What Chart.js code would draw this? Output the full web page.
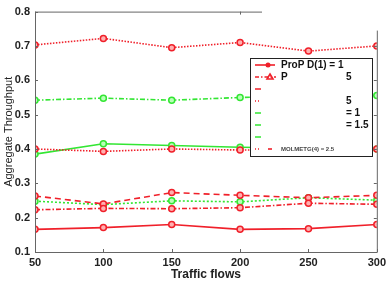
<!DOCTYPE html>
<html lang="en">
<head>
    <meta charset="UTF-8">
    <title>Aggregate Throughput vs Traffic flows</title>
    <script src="https://cdn.jsdelivr.net/npm/chart.js"></script>
    <style>
        html, body { margin: 0; padding: 0; background: #fff; }
        #wrap { width: 390px; height: 282px; }
    </style>
</head>
<body>
    <div id="wrap"><canvas id="chart" width="390" height="282"></canvas></div>

    <script>
        // data
        const flows = [50, 100, 150, 200, 250, 300];
        const yTicks = [0.1, 0.2, 0.3, 0.4, 0.5, 0.6, 0.7, 0.8];

        const redSolid   = [0.166, 0.171, 0.180, 0.166, 0.168, 0.180];
        const redDashDot = [0.223, 0.227, 0.226, 0.229, 0.242, 0.239];
        const redDashed  = [0.263, 0.240, 0.273, 0.265, 0.258, 0.265];
        const redDotLow  = [0.400, 0.393, 0.400, 0.397, 0.398, 0.400];
        const greenSolid = [0.385, 0.415, 0.410, 0.405, 0.402, 0.400];
        const greenDash  = [0.542, 0.548, 0.542, 0.550, 0.555, 0.556];
        const greenDot   = [0.248, 0.238, 0.249, 0.246, 0.258, 0.251];
        const redDotTop  = [0.703, 0.722, 0.695, 0.710, 0.685, 0.700];

        const RED = "#f0202a";
        const GREEN = "#33e633";

        function series(label, values, color, dash, marker) {
            return {
                label: label,
                data: values.map((v, i) => ({ x: flows[i], y: v })),
                borderColor: color,
                backgroundColor: color === RED ? "#ffb0b0" : "#b8ffb8",
                borderWidth: 1.6,
                borderDash: dash,
                pointStyle: marker || "circle",
                pointRadius: 3,
                pointBorderWidth: 1.5,
                pointBorderColor: color,
                tension: 0
            };
        }

        // box drawn over the plot like in the original figure
        const boxPlugin = {
            id: "boxPlugin",
            afterDatasetsDraw(chart) {
                const ctx = chart.ctx;
                const a = chart.chartArea;
                const xs = chart.scales.x;
                ctx.save();
                ctx.strokeStyle = "#666";
                ctx.lineWidth = 1;
                // frame: left, bottom, part of top, part of right
                ctx.beginPath();
                ctx.moveTo(a.left + 0.5, a.top);
                ctx.lineTo(a.left + 0.5, a.bottom + 0.5);
                ctx.lineTo(a.right + 0.5, a.bottom + 0.5);
                ctx.lineTo(a.right + 0.5, a.top + 19);
                ctx.moveTo(a.left, a.top + 0.5);
                ctx.lineTo(262, a.top + 0.5);
                ctx.stroke();
                // inward ticks
                ctx.beginPath();
                flows.forEach(f => {
                    const px = Math.round(xs.getPixelForValue(f)) + 0.5;
                    ctx.moveTo(px, a.bottom);
                    ctx.lineTo(px, a.bottom - 3);
                });
                ctx.moveTo(Math.round(xs.getPixelForValue(200)) + 0.5, a.top);
                ctx.lineTo(Math.round(xs.getPixelForValue(200)) + 0.5, a.top + 3);
                yTicks.forEach(t => {
                    const py = Math.round(chart.scales.y.getPixelForValue(t)) + 0.5;
                    ctx.moveTo(a.left, py);
                    ctx.lineTo(a.left + 3, py);
                    if (py > a.top + 19) {
                        ctx.moveTo(a.right, py);
                        ctx.lineTo(a.right - 3, py);
                    }
                });
                ctx.stroke();

                // legend box
                const bx = 250, by = 58, bw = 122, bh = 98;
                ctx.fillStyle = "#fff";
                ctx.fillRect(bx, by, bw, bh);
                ctx.strokeStyle = "#222";
                ctx.strokeRect(bx + 0.5, by + 0.5, bw, bh);

                const rows = [65, 77, 89, 101, 113, 125, 137, 149];
                ctx.lineWidth = 1.6;
                // first entry: red solid with circle
                ctx.strokeStyle = RED;
                ctx.setLineDash([]);
                ctx.beginPath();
                ctx.moveTo(255, rows[0]); ctx.lineTo(275, rows[0]); ctx.stroke();
                ctx.fillStyle = RED;
                ctx.beginPath(); ctx.arc(268, rows[0], 2.5, 0, Math.PI * 2); ctx.fill();
                // second: red dash-dot with triangle
                ctx.setLineDash([4, 2, 1.5, 2]);
                ctx.beginPath();
                ctx.moveTo(255, rows[1]); ctx.lineTo(276, rows[1]); ctx.stroke();
                ctx.setLineDash([]);
                ctx.beginPath();
                ctx.moveTo(270, rows[1] - 3); ctx.lineTo(273, rows[1] + 2); ctx.lineTo(267, rows[1] + 2);
                ctx.closePath(); ctx.stroke();
                // remaining entries only show short pieces
                const frag = [
                    [RED, [4, 0]], [RED, [1, 2]], [GREEN, [5, 0]],
                    [GREEN, [5, 0]], [GREEN, [5, 0]], [RED, [1, 2, 1, 4]]
                ];
                frag.forEach((f, i) => {
                    ctx.strokeStyle = f[0];
                    ctx.setLineDash(f[1]);
                    ctx.beginPath();
                    ctx.moveTo(255, rows[i + 2]); ctx.lineTo(261, rows[i + 2]); ctx.stroke();
                });
                ctx.setLineDash([]);
                ctx.beginPath();
                ctx.moveTo(268, rows[7]); ctx.lineTo(272, rows[7]); ctx.stroke();

                ctx.fillStyle = "#111";
                ctx.font = "bold 10px 'Liberation Sans', Arial, sans-serif";
                ctx.textBaseline = "middle";
                ctx.fillText("ProP D(1) = 1", 281, rows[0]);
                ctx.fillText("P", 281, rows[1]);
                ctx.fillText("5", 346, rows[1]);
                ctx.fillText("5", 346, rows[3]);
                ctx.fillText("= 1", 346, rows[4]);
                ctx.fillText("= 1.5", 346, rows[5]);
                ctx.font = "bold 6px 'Liberation Sans', Arial, sans-serif";
                ctx.fillStyle = "#444";
                ctx.fillText("MOLMETG(4) = 2.5", 281, rows[7]);
                ctx.restore();
            }
        };

        const ctx = document.getElementById("chart").getContext("2d");
        new Chart(ctx, {
            type: "line",
            data: {
                datasets: [
                    series("ProP D(1) = 1", redSolid, RED, []),
                    series("ProP D(1) = 1.5", redDashDot, RED, [5, 2, 1.5, 2]),
                    series("ProP D(1) = 2.5", redDashed, RED, [6, 4]),
                    series("ProP D(4) = 1.5", redDotLow, RED, [1.5, 1.5]),
                    series("MOLMETG D(1) = 1", greenSolid, GREEN, []),
                    series("MOLMETG D(1) = 1.5", greenDash, GREEN, [5, 2, 1.5, 2]),
                    series("MOLMETG D(1) = 2.5", greenDot, GREEN, [2, 2]),
                    series("MOLMETG D(4) = 2.5", redDotTop, RED, [1.5, 1.5])
                ]
            },
            options: {
                responsive: false,
                animation: false,
                layout: { padding: { top: 4, right: 12, left: 0, bottom: 0 } },
                plugins: {
                    legend: { display: false },
                    tooltip: { enabled: false }
                },
                scales: {
                    x: {
                        type: "linear",
                        min: 50,
                        max: 300,
                        grid: { display: false, drawTicks: false },
                        border: { display: false },
                        afterBuildTicks: axis => { axis.ticks = flows.map(v => ({ value: v })); },
                        ticks: {
                            padding: 4,
                            color: "#222",
                            font: { family: "'Liberation Sans', Arial, sans-serif", size: 11, weight: "bold" }
                        },
                        title: {
                            display: true,
                            text: "Traffic flows",
                            color: "#222",
                            padding: { top: 0, bottom: 0 },
                            font: { family: "'Liberation Sans', Arial, sans-serif", size: 12, weight: "bold" }
                        },
                        afterFit: axis => { axis.height = 30; }
                    },
                    y: {
                        min: 0.1,
                        max: 0.8,
                        grid: { display: false, drawTicks: false },
                        border: { display: false },
                        afterBuildTicks: axis => { axis.ticks = yTicks.map(v => ({ value: v })); },
                        ticks: {
                            padding: 5,
                            color: "#222",
                            callback: v => v.toFixed(1),
                            font: { family: "'Liberation Sans', Arial, sans-serif", size: 11, weight: "bold" }
                        },
                        title: {
                            display: true,
                            text: "Aggregate Throughput",
                            color: "#222",
                            padding: { top: 2, bottom: 0 },
                            font: { family: "'Liberation Sans', Arial, sans-serif", size: 11, weight: "normal" }
                        },
                        afterFit: axis => { axis.width = 35; }
                    }
                }
            },
            plugins: [boxPlugin]
        });
    </script>
</body>
</html>
